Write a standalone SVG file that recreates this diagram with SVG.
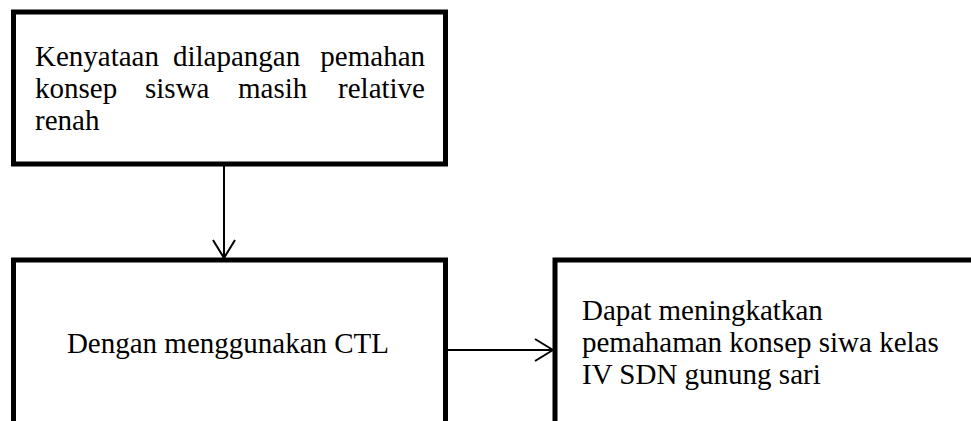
<svg xmlns="http://www.w3.org/2000/svg" width="971" height="421" viewBox="0 0 971 421">
<style>
.box{fill:#fff;stroke:#000;stroke-width:5}
.t{font-family:"Liberation Serif","Times New Roman",serif;font-size:29px;fill:#000}
.c{stroke:#000;stroke-width:2;fill:none}
</style>
<defs>
<marker id="arr" viewBox="0 0 20 24" refX="19" refY="12" markerWidth="20" markerHeight="24" markerUnits="userSpaceOnUse" orient="auto">
<path d="M1,1 L19,12 L1,23" fill="none" stroke="#000" stroke-width="2"/>
</marker>
</defs>
<rect width="971" height="421" fill="#fff"/>
<g id="node1">
<rect class="box" x="13.5" y="12" width="432" height="152"/>
<text class="t" y="66"><tspan x="35">Kenyataan</tspan><tspan x="173">dilapangan</tspan></text>
<text class="t" x="425" y="66" text-anchor="end">pemahan</text>
<text class="t" y="98"><tspan x="35">konsep</tspan><tspan x="145">siswa</tspan><tspan x="238">masih</tspan></text>
<text class="t" x="425" y="98" text-anchor="end">relative</text>
<text class="t" x="35" y="130">renah</text>
</g>
<g id="node2">
<rect class="box" x="13.5" y="260" width="432" height="180"/>
<text class="t" x="228" y="353" text-anchor="middle">Dengan menggunakan CTL</text>
</g>
<g id="node3">
<rect class="box" x="555" y="260" width="440" height="180"/>
<text class="t" x="582" y="320">Dapat meningkatkan</text>
<text class="t" x="582" y="352">pemahaman konsep siwa kelas</text>
<text class="t" x="582" y="384">IV SDN gunung sari</text>
</g>
<g id="connectors">
<line class="c" x1="224" y1="166" x2="224" y2="258" marker-end="url(#arr)"/>
<line class="c" x1="448" y1="350" x2="553" y2="350" marker-end="url(#arr)"/>
</g>
</svg>
